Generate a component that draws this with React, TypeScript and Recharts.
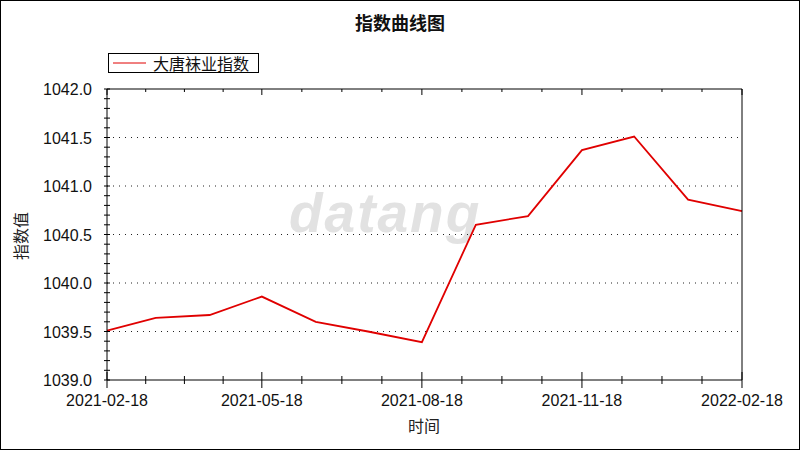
import React from 'react';
import { LineChart, Line, XAxis, YAxis, ReferenceLine, Legend } from 'recharts';

const dates = [
  '2021-02-18', '2021-03-18', '2021-04-18', '2021-05-18', '2021-06-18', '2021-07-18', '2021-08-18',
  '2021-09-18', '2021-10-18', '2021-11-18', '2021-12-18', '2022-01-18', '2022-02-18',
];
const values = [
  1039.51, 1039.64, 1039.67, 1039.86, 1039.6, 1039.5, 1039.39,
  1040.6, 1040.69, 1041.37, 1041.51, 1040.86, 1040.74,
];
const majorDates = ['2021-02-18', '2021-05-18', '2021-08-18', '2021-11-18', '2022-02-18'];
const yMajor = [1039.0, 1039.5, 1040.0, 1040.5, 1041.0, 1041.5, 1042.0];
const gridValues = [1039.5, 1040.0, 1040.5, 1041.0, 1041.5];
const seriesName = '大唐袜业指数';

const data = dates.map((d, i) => ({ t: Date.parse(d), value: values[i] }));
const majorTs = majorDates.map((d) => Date.parse(d));

// 4 subdivisions between each pair of labelled dates
const xTicks: number[] = [];
majorTs.forEach((t, i) => {
  xTicks.push(t);
  if (i < majorTs.length - 1) {
    const step = (majorTs[i + 1] - t) / 4;
    for (let k = 1; k < 4; k++) xTicks.push(t + step * k);
  }
});
// minor ticks every 0.1
const yTicks: number[] = [];
for (let k = 0; k <= 30; k++) yTicks.push(Math.round((1039 + k * 0.1) * 10) / 10);

const isMajorY = (v: number) => yMajor.some((m) => Math.abs(m - v) < 1e-6);
const isMajorX = (v: number) => majorTs.some((m) => Math.abs(m - v) < 1);

const numFont = '"Liberation Sans", Arial, sans-serif';
const cjkFont = '"Noto Sans CJK SC", sans-serif';

const BottomTick = (props: any) => {
  const { x, y, payload } = props;
  const major = isMajorX(payload.value);
  return (
    <g>
      <line x1={x} x2={x} y1={y - (major ? 8 : 4)} y2={y + (major ? 8 : 4)} stroke="#000" />
      {major && (
        <text x={x} y={y + 26} textAnchor="middle" fontSize={16} fontFamily={numFont} fill="#111">
          {new Date(payload.value).toISOString().slice(0, 10)}
        </text>
      )}
    </g>
  );
};

const TopTick = (props: any) => {
  const { x, y, payload } = props;
  const major = isMajorX(payload.value);
  return <line x1={x} x2={x} y1={y} y2={y + (major ? 6 : 3)} stroke="#000" />;
};

const LeftTick = (props: any) => {
  const { x, y, payload } = props;
  const major = isMajorY(payload.value);
  return (
    <g>
      <line x1={x - 3} x2={x + 3} y1={y} y2={y} stroke="#000" />
      {major && (
        <text x={x - 15} y={y + 6} textAnchor="end" fontSize={16} fontFamily={numFont} fill="#111">
          {payload.value.toFixed(1)}
        </text>
      )}
    </g>
  );
};

const LegendBox = () => (
  <div
    style={{
      width: 151,
      height: 20,
      border: '1px solid #000',
      boxSizing: 'border-box',
      display: 'flex',
      alignItems: 'center',
      background: '#fff',
    }}
  >
    <svg width={40} height={18}>
      <line x1={4} x2={37} y1={9} y2={9} stroke="#e00000" strokeWidth={1} />
    </svg>
    <span style={{ fontFamily: cjkFont, fontSize: 16, lineHeight: '18px', marginLeft: 4, color: '#111' }}>
      {seriesName}
    </span>
  </div>
);

export default function App() {
  return (
    <div style={{ position: 'absolute', left: 0, top: 0, width: 800, height: 450, background: '#fff' }}>
      <div
        style={{
          position: 'absolute',
          left: 289,
          top: 183,
          fontFamily: numFont,
          fontWeight: 'bold',
          fontStyle: 'italic',
          fontSize: 55,
          color: '#e2e2e2',
          letterSpacing: 2,
          lineHeight: '60px',
        }}
      >
        datang
      </div>
      <div
        style={{
          position: 'absolute',
          left: 0,
          top: 12,
          width: 800,
          textAlign: 'center',
          fontFamily: cjkFont,
          fontWeight: 'bold',
          fontSize: 18,
          lineHeight: '20px',
          color: '#111',
        }}
      >
        指数曲线图
      </div>
      <div style={{ position: 'absolute', left: 0, top: 0 }}>
        <LineChart width={800} height={450} data={data} margin={{ top: 88, right: 57, bottom: 40, left: 47 }}>
          <XAxis
            dataKey="t"
            type="number"
            domain={[majorTs[0], majorTs[majorTs.length - 1]]}
            ticks={xTicks}
            interval={0}
            height={30}
            tickSize={0}
            tickMargin={0}
            tick={<BottomTick />}
            axisLine={{ stroke: '#000' }}
          />
          <XAxis
            xAxisId="top"
            orientation="top"
            dataKey="t"
            type="number"
            domain={[majorTs[0], majorTs[majorTs.length - 1]]}
            ticks={xTicks}
            interval={0}
            height={1}
            tickSize={0}
            tickMargin={0}
            tick={<TopTick />}
            axisLine={{ stroke: '#000' }}
          />
          <YAxis
            type="number"
            domain={[1039, 1042]}
            ticks={yTicks}
            interval={0}
            width={60}
            tickSize={0}
            tickMargin={0}
            tick={<LeftTick />}
            axisLine={{ stroke: '#000' }}
          />
          <YAxis
            yAxisId="right"
            orientation="right"
            type="number"
            domain={[1039, 1042]}
            width={1}
            tick={false}
            tickLine={false}
            axisLine={{ stroke: '#000' }}
          />
          {gridValues.map((v) => (
            <ReferenceLine key={v} y={v} stroke="#222" strokeDasharray="1 5" />
          ))}
          <Legend
            verticalAlign="middle"
            layout="horizontal"
            content={<LegendBox />}
            wrapperStyle={{ left: 108, top: 53, width: 151, height: 20 }}
          />
          <Line
            type="linear"
            dataKey="value"
            name={seriesName}
            stroke="#e00000"
            strokeWidth={1.8}
            dot={false}
            activeDot={false}
            isAnimationActive={false}
          />
        </LineChart>
      </div>
      <div
        style={{
          position: 'absolute',
          left: 404,
          top: 415,
          width: 40,
          textAlign: 'center',
          fontFamily: cjkFont,
          fontSize: 16,
          lineHeight: '20px',
          color: '#222',
        }}
      >
        时间
      </div>
      <div
        style={{
          position: 'absolute',
          left: 20,
          top: 236,
          transform: 'translate(-50%, -50%) rotate(-90deg)',
          fontFamily: cjkFont,
          fontSize: 16,
          lineHeight: '20px',
          color: '#222',
          whiteSpace: 'nowrap',
        }}
      >
        指数值
      </div>
      <div
        style={{
          position: 'absolute',
          left: 0,
          top: 0,
          width: 800,
          height: 450,
          border: '1px solid #000',
          boxSizing: 'border-box',
          pointerEvents: 'none',
        }}
      />
    </div>
  );
}
